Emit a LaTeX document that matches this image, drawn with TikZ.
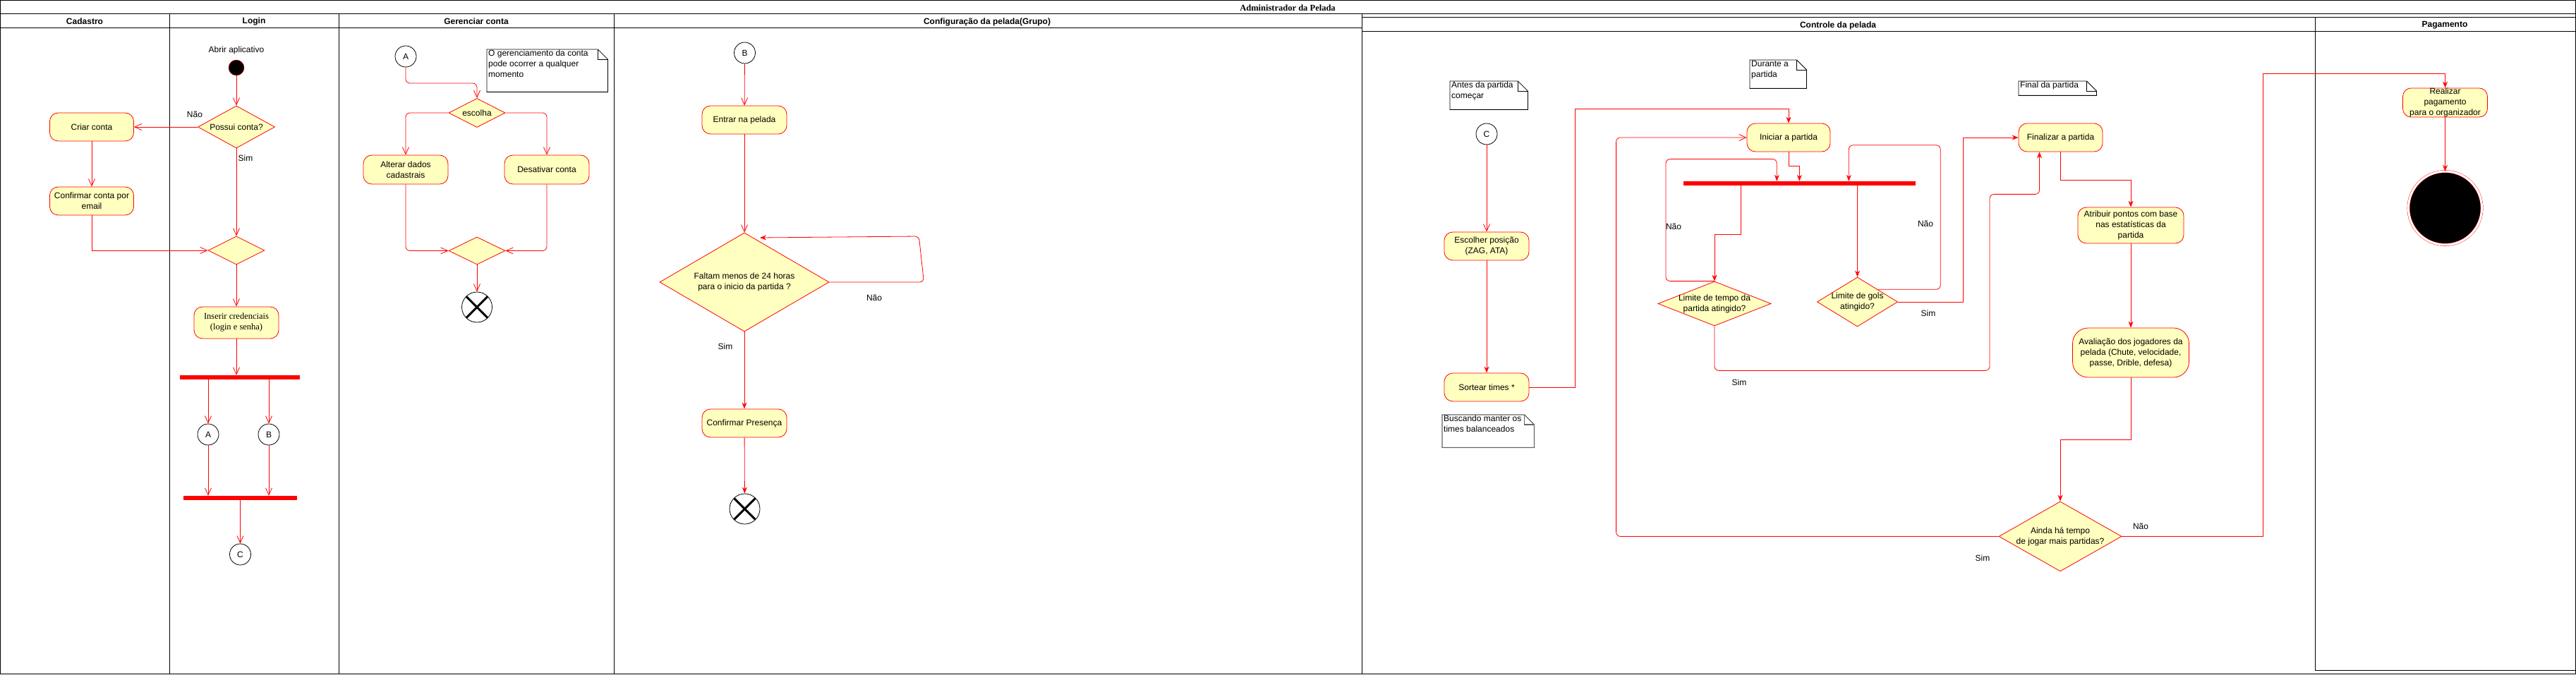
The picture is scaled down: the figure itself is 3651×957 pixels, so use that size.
\documentclass[tikz,border=0pt]{standalone}
\usepackage{fontspec}
\setmainfont{Liberation Sans}
\newfontfamily\serifa{Liberation Serif}
\usetikzlibrary{arrows.meta,calc,positioning,shapes.geometric}
\definecolor{vermelho}{rgb}{1,0,0}
\definecolor{creme}{rgb}{1,1,0.75}
\definecolor{cinzanota}{rgb}{0.4,0.4,0.4}
\newcommand{\fonte}{\fontsize{12}{15}\selectfont}
\newcommand{\dobra}[2][black]{%
  \draw[line width=0.8pt, #1] (#2.north west) -- ([xshift=-14pt]#2.north east) -- ([yshift=-14pt]#2.north east) -- (#2.south east) -- (#2.south west) -- cycle;
  \draw[line width=0.8pt, #1] ([xshift=-14pt]#2.north east) |- ([yshift=-14pt]#2.north east);}
\tikzset{
  raia/.style={
    line width=1pt,
    black
  },
  titulo/.style={
    font=\serifa\bfseries\fontsize{12.5}{15}\selectfont,
    inner sep=0pt
  },
  cabeca/.style={
    font=\fonte\bfseries,
    inner sep=0pt
  },
  acao/.style={
    rounded corners=12pt,
    draw=vermelho,
    line width=0.8pt,
    fill=creme,
    align=center,
    minimum width=120pt,
    minimum height=40pt,
    inner sep=0pt,
    font=\fonte
  },
  decisao/.style={
    diamond,
    draw=vermelho,
    line width=0.8pt,
    fill=creme,
    align=center,
    inner sep=-3pt,
    font=\fonte
  },
  conector/.style={
    circle,
    draw=black,
    line width=0.8pt,
    fill=white,
    minimum size=30pt,
    inner sep=0pt,
    font=\fonte
  },
  inicial/.style={
    circle,
    draw=vermelho,
    fill=black,
    minimum size=22pt,
    inner sep=0pt
  },
  fimfluxo/.style={
    circle,
    draw=black,
    line width=0.8pt,
    fill=white,
    minimum size=43pt,
    inner sep=0pt,
    path picture={
      \draw[line width=3pt] ([shift={(-15pt,-15pt)}]path picture bounding box.center) -- ([shift={(15pt,15pt)}]path picture bounding box.center);
      \draw[line width=3pt] ([shift={(-15pt,15pt)}]path picture bounding box.center) -- ([shift={(15pt,-15pt)}]path picture bounding box.center);
    }
  },
  fimativ/.style={
    circle,
    draw=vermelho,
    fill=black,
    minimum size=104pt,
    inner sep=0pt,
    double=white,
    double distance=3pt
  },
  barra/.style={
    fill=vermelho,
    inner sep=0pt,
    minimum height=6pt
  },
  nota/.style={
    anchor=north west,
    inner xsep=2pt,
    inner ysep=1pt,
    font=\fonte,
    align=left
  },
  rotulo/.style={
    font=\fonte,
    inner sep=0pt
  },
  fluxo/.style={
    draw=vermelho,
    line width=0.8pt,
    -{Straight Barb[length=10pt,width=9pt]}
  },
  seta/.style={
    draw=vermelho,
    line width=0.8pt,
    -{Stealth[length=9pt,width=7pt]}
  }
}

\begin{document}
\begin{tikzpicture}[x=1pt, y=-1pt]
\useasboundingbox (0,0) rectangle (3651,957);
\draw[raia] (0.6,0.6) rectangle (3650.4,955);
\draw[raia] (0,20) -- (3651,20);
\draw[raia] (0,40) -- (1930.5,40);
\foreach \x in {240,480,870.5,1930.5} \draw[raia] (\x,20) -- (\x,955);
\draw[raia] (1930.5,25) -- (3651,25);
\draw[raia] (1930.5,45) -- (3651,45);
\draw[raia] (3281,25) -- (3281,950) -- (3651,950);
\node[titulo] (pelada) at (1825,11) {Administrador da Pelada};
\node[cabeca] (hCadastro) at (120,30) {Cadastro};
\node[cabeca] (hLogin) at (360,30) {Login};
\node[cabeca] (hGerenciar) at (675,30) {Gerenciar conta};
\node[cabeca] (hConfig) at (1399,31) {Configuração da pelada(Grupo)};
\node[cabeca] (hControle) at (2605,36) {Controle da pelada};
\node[cabeca] (hPagamento) at (3465,36) {Pagamento};

\node[rotulo] (abrir) at (335,71) {Abrir aplicativo};
\node[inicial] (inicio) at (335,96) {};
\node[decisao, minimum width=109pt, minimum height=60pt, aspect=1.8] (possui) at (335,180) {Possui conta?};
\node[acao, minimum width=119pt] (criar) at (130,180) {Criar conta};
\node[acao, minimum width=119pt] (confirmar) at (130,285) {Confirmar conta por\\email};
\node[decisao, minimum width=80pt, minimum height=40pt, aspect=2] (juncaoLogin) at (335,355) {};
\node[acao, minimum height=45pt, font=\serifa\fontsize{12.5}{15}\selectfont] (credenciais) at (335,457.5) {Inserir credenciais\\(login e senha)};
\node[barra, minimum width=170pt] (forkLogin) at (340,535) {};
\node[conector] (conA) at (295,616) {A};
\node[conector] (conB) at (381,616) {B};
\node[barra, minimum width=161pt] (joinLogin) at (340.5,706) {};
\node[conector] (conC) at (340.5,786) {C};
\node[rotulo] (naoPossui) at (276,162) {Não};
\node[rotulo] (simPossui) at (348,224) {Sim};

\node[conector] (conA2) at (575,80) {A};
\node[nota] (notaGer) at (690,70) {\parbox[t][58pt][t]{167pt}{\raggedright O gerenciamento da conta\\pode ocorrer a qualquer\\momento}};
\dobra{notaGer}
\node[decisao, minimum width=80pt, minimum height=41pt, aspect=2] (escolha) at (676,160) {escolha};
\node[acao, minimum height=41pt] (alterar) at (575,240.5) {Alterar dados\\cadastrais};
\node[acao, minimum height=41pt] (desativar) at (775,240.5) {Desativar conta};
\node[decisao, minimum width=80pt, minimum height=39pt, aspect=2] (juncaoGer) at (676,355.5) {};
\node[fimfluxo] (fimGer) at (676,435.5) {};

\node[conector] (conB2) at (1055.5,75) {B};
\node[acao] (entrar) at (1055,170) {Entrar na pelada};
\node[decisao, minimum width=240pt, minimum height=140pt, aspect=1.7] (faltam) at (1055,400) {Faltam menos de 24 horas\\para o inicio da partida ?};
\node[acao] (presenca) at (1055,600) {Confirmar Presença};
\node[fimfluxo] (fimConf) at (1055.5,721.5) {};
\coordinate (voltaFaltam) at (1077,337);
\node[rotulo] (naoFaltam) at (1239,422) {Não};
\node[rotulo] (simFaltam) at (1028,491) {Sim};

\node[nota] (notaAntes) at (2055,115) {\parbox[t][38pt][t]{106pt}{\raggedright Antes da partida\\começar}};
\dobra{notaAntes}
\node[conector] (conC2) at (2107,190) {C};
\node[acao] (escolher) at (2107,349) {Escolher posição\\(ZAG, ATA)};
\node[acao] (sortear) at (2107,549) {Sortear times *};
\node[nota] (notaBusca) at (2044,588) {\parbox[t][44pt][t]{126pt}{\raggedright Buscando manter os\\times balanceados}};
\dobra[cinzanota, line width=1.2pt]{notaBusca}
\node[nota] (notaDurante) at (2480,85) {\parbox[t][38pt][t]{76pt}{\raggedright Durante a\\partida}};
\dobra{notaDurante}
\node[acao, minimum width=118pt] (iniciar) at (2535,195) {Iniciar a partida};
\node[barra, minimum width=329pt] (barra) at (2550.3,260) {};
\node[decisao, minimum width=160pt, minimum height=63pt, aspect=2.5] (tempo) at (2430,430.5) {Limite de tempo da\\partida atingido?};
\node[decisao, minimum width=114pt, minimum height=70pt, aspect=1.63] (gols) at (2632.5,428) {Limite de gols\\atingido?};
\node[nota] (notaFinal) at (2861,115) {\parbox[t][18pt][t]{106pt}{\raggedright Final da partida}};
\dobra{notaFinal}
\node[acao, minimum width=119pt] (finalizar) at (2920.5,195) {Finalizar a partida};
\node[acao, minimum width=150pt, minimum height=51pt] (atribuir) at (3020,319.5) {Atribuir pontos com base\\nas estatísticas da\\partida};
\node[acao, minimum width=165pt, minimum height=70pt, rounded corners=22pt] (avaliacao) at (3020,500) {Avaliação dos jogadores da\\pelada (Chute, velocidade,\\passe, Drible, defesa)};
\node[decisao, minimum width=174pt, minimum height=99pt, aspect=1.76] (ainda) at (2920,760.5) {Ainda há tempo\\de jogar mais partidas?};
\node[rotulo] (naoTempo) at (2372,321) {Não};
\node[rotulo] (simTempo) at (2465,542) {Sim};
\node[rotulo] (naoGols) at (2729,317) {Não};
\node[rotulo] (simGols) at (2733,444) {Sim};
\node[rotulo] (simAinda) at (2810,791) {Sim};
\node[rotulo] (naoAinda) at (3034,746) {Não};

\node[acao, minimum height=41pt] (pagar) at (3465.5,145.5) {Realizar\\pagamento\\para o organizador};
\node[fimativ] (fim) at (3465.5,295) {};

\draw[fluxo] (inicio) -- (possui);
\draw[fluxo] (possui) -- (criar);
\draw[fluxo] (criar) -- (confirmar);
\draw[fluxo] (confirmar) |- (juncaoLogin);
\draw[fluxo] (possui) -- (juncaoLogin);
\draw[fluxo] (juncaoLogin) -- (credenciais);
\draw[fluxo] (credenciais) -- (credenciais |- forkLogin.north);
\draw[fluxo] (conA |- forkLogin.south) -- (conA);
\draw[fluxo] (conB |- forkLogin.south) -- (conB);
\draw[fluxo] (conA) -- (conA |- joinLogin.north);
\draw[fluxo] (conB) -- (conB |- joinLogin.north);
\draw[fluxo] (joinLogin) -- (conC);

\draw[fluxo, rounded corners=6pt] (conA2) -- ++(0,38) -| (escolha);
\draw[fluxo, rounded corners=6pt] (escolha) -| (alterar);
\draw[fluxo, rounded corners=6pt] (escolha) -| (desativar);
\draw[fluxo, rounded corners=6pt] (alterar) |- (juncaoGer);
\draw[fluxo, rounded corners=6pt] (desativar) |- (juncaoGer);
\draw[fluxo] (juncaoGer) -- (fimGer);

\draw[fluxo] (conB2) -- (entrar);
\draw[fluxo] (entrar) -- (faltam);
\draw[seta, rounded corners=6pt] (faltam.east) -- ++(134,0) -- ++(-7,-65) -- (voltaFaltam);
\draw[seta] (faltam) -- (presenca);
\draw[seta] (presenca) -- (fimConf);

\draw[fluxo] (conC2) -- (escolher);
\draw[seta] (escolher) -- (sortear);
\draw[seta] (sortear.east) -- ++(65,0) |- ([yshift=20pt]iniciar.north) -- (iniciar.north);
\draw[seta] (iniciar) -- ++(0,40) -| (barra);
\draw[seta] ([xshift=-83pt]barra.south) -- ++(0,69) -| (tempo);
\draw[seta, rounded corners=6pt] (tempo.north) -- ++(-69,0) -- ++(0,-173) -| ([xshift=-32pt]barra.north);
\draw[seta] (gols |- barra.south) -- (gols);
\draw[seta, rounded corners=6pt] (gols.north east) -- ++(89,0) |- ([xshift=70pt,yshift=51pt]barra.north) -- ([xshift=70pt]barra.north);
\draw[seta] (gols.east) -- ++(92,0) |- (finalizar);
\draw[seta, rounded corners=6pt] (tempo.south) -- ++(0,63) -- ++(390,0) |- ([xshift=-30pt,yshift=-60pt]finalizar.south) -- ([xshift=-30pt]finalizar.south);
\draw[seta] (finalizar) -- ++(0,60) -| (atribuir);
\draw[seta] (atribuir) -- (avaliacao);
\draw[seta] (avaliacao) -- ++(0,123) -| (ainda);
\draw[fluxo, rounded corners=6pt] (ainda.west) -- ++(-542,0) |- (iniciar);
\draw[seta] (ainda.east) -- ++(200,0) |- ([yshift=20pt]pagar.north) -- (pagar.north);
\draw[seta] (pagar) -- (fim);
\end{tikzpicture}
\end{document}
